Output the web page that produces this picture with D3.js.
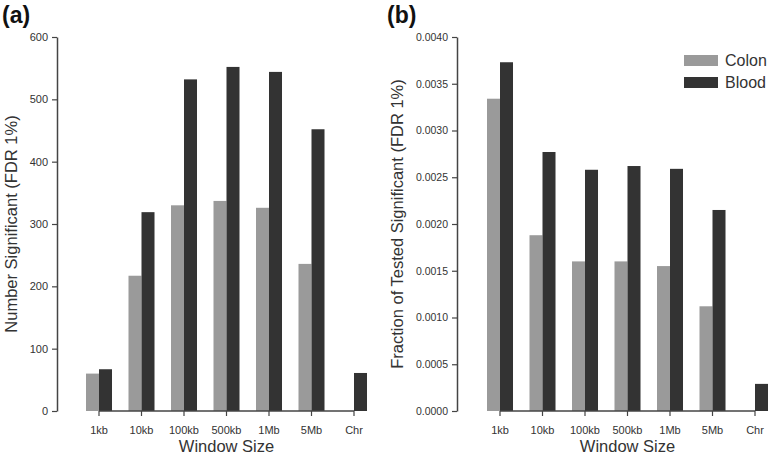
<!DOCTYPE html>
<html>
<head>
<meta charset="utf-8">
<script src="https://cdn.jsdelivr.net/npm/d3@7"></script>
<style>
  body { margin: 0; background: #fff; }
  svg { display: block; font-family: "Liberation Sans", Arial, sans-serif; }
</style>
</head>
<body>
<svg id="chart" width="771" height="457"></svg>
<script>
// Data
const windows = ['1kb', '10kb', '100kb', '500kb', '1Mb', '5Mb', 'Chr'];
const tissues = ['Colon', 'Blood'];

const countColon = [60, 217, 330, 337, 326, 236, 0];
const countBlood = [67, 319, 532, 552, 544, 452, 61];
const countTicks = [0, 100, 200, 300, 400, 500, 600];

const fracColon = [0.00334, 0.00188, 0.00160, 0.00160, 0.00155, 0.00112, 0];
const fracBlood = [0.00373, 0.00277, 0.00258, 0.00262, 0.00259, 0.00215, 0.00029];
const fracTicks = [0, 0.0005, 0.001, 0.0015, 0.002, 0.0025, 0.003, 0.0035, 0.004];

const colors = { Colon: '#9a9a9a', Blood: '#333333' };
const axisColor = '#444';
const textColor = '#333';

const svg = d3.select('#chart');

function drawPanel(opts) {
    const g = svg.append('g');
    const top = 37, bottom = 411;

    const x = d3.scaleBand()
        .domain(windows)
        .range(opts.xRange)
        .paddingInner(0.388)
        .paddingOuter(0.194);

    const xSub = d3.scaleBand()
        .domain(tissues)
        .range([0, x.bandwidth()]);

    const y = d3.scaleLinear()
        .domain([0, d3.max(opts.ticks)])
        .range([bottom, top]);

    // bars
    const rows = windows.map((w, i) => ({
        w: w,
        vals: [{ k: 'Colon', v: opts.colon[i] }, { k: 'Blood', v: opts.blood[i] }]
    }));

    const groups = g.selectAll('g.grp')
        .data(rows)
        .enter()
        .append('g')
        .attr('class', 'grp')
        .attr('transform', d => `translate(${x(d.w)},0)`);

    groups.selectAll('rect')
        .data(d => d.vals)
        .enter()
        .append('rect')
        .attr('x', d => xSub(d.k))
        .attr('y', d => y(d.v))
        .attr('width', xSub.bandwidth())
        .attr('height', d => y(0) - y(d.v))
        .style('fill', d => colors[d.k]);

    // y axis (R style: line spans tick range)
    const yAxis = d3.axisLeft(y)
        .tickValues(opts.ticks)
        .tickFormat(opts.fmt)
        .tickSize(5)
        .tickSizeOuter(0)
        .tickPadding(4);

    const ya = g.append('g')
        .attr('transform', `translate(${opts.yAxisX},0)`)
        .call(yAxis);
    ya.select('.domain').attr('stroke', axisColor).attr('stroke-width', 1.5);
    ya.selectAll('.tick line').attr('stroke', axisColor).attr('stroke-width', 1.2);
    ya.selectAll('.tick text')
        .attr('fill', textColor)
        .style('font-size', opts.yFont + 'px')
        .style('font-family', '"Liberation Sans", Arial, sans-serif');

    // x axis: line from first to last tick
    const cx = w => x(w) + x.bandwidth() / 2;
    g.append('line')
        .attr('x1', cx(windows[0]))
        .attr('x2', cx(windows[windows.length - 1]))
        .attr('y1', bottom)
        .attr('y2', bottom)
        .attr('stroke', axisColor)
        .attr('stroke-width', 1.5);

    g.selectAll('line.xtick')
        .data(windows)
        .enter()
        .append('line')
        .attr('class', 'xtick')
        .attr('x1', cx)
        .attr('x2', cx)
        .attr('y1', bottom)
        .attr('y2', bottom + 5)
        .attr('stroke', axisColor)
        .attr('stroke-width', 1.2);

    g.selectAll('text.xlab')
        .data(windows)
        .enter()
        .append('text')
        .attr('class', 'xlab')
        .attr('x', cx)
        .attr('y', 434)
        .attr('text-anchor', 'middle')
        .attr('fill', textColor)
        .style('font-size', '11px')
        .text(d => d);

    g.append('text')
        .attr('x', (cx(windows[0]) + cx(windows[windows.length - 1])) / 2)
        .attr('y', 452)
        .attr('text-anchor', 'middle')
        .attr('fill', textColor)
        .style('font-size', '16.5px')
        .text('Window Size');

    g.append('text')
        .attr('transform', `translate(${opts.titleX},${(top + bottom) / 2}) rotate(-90)`)
        .attr('text-anchor', 'middle')
        .attr('fill', textColor)
        .style('font-size', '16.5px')
        .text(opts.yTitle);

    g.append('text')
        .attr('x', opts.labelX)
        .attr('y', 23)
        .attr('fill', '#111')
        .style('font-size', '23px')
        .style('font-weight', 'bold')
        .text(opts.label);
}

drawPanel({
    label: '(a)', labelX: 2,
    xRange: [77.75, 375.25], yAxisX: 57,
    colon: countColon, blood: countBlood,
    ticks: countTicks, fmt: d3.format('d'), yFont: 11,
    yTitle: 'Number Significant (FDR 1%)', titleX: 17
});

drawPanel({
    label: '(b)', labelX: 387,
    xRange: [478.75, 776.25], yAxisX: 457,
    colon: fracColon, blood: fracBlood,
    ticks: fracTicks, fmt: d3.format('.4f'), yFont: 10.5,
    yTitle: 'Fraction of Tested Significant (FDR 1%)', titleX: 403
});

// legend
const legend = svg.append('g')
    .selectAll('g')
    .data(tissues)
    .enter()
    .append('g')
    .attr('transform', (d, i) => `translate(684,${55 + i * 22})`);

legend.append('rect')
    .attr('width', 34)
    .attr('height', 11)
    .style('fill', d => colors[d]);

legend.append('text')
    .attr('x', 41)
    .attr('y', 11)
    .attr('fill', textColor)
    .style('font-size', '16px')
    .text(d => d);
</script>
</body>
</html>
